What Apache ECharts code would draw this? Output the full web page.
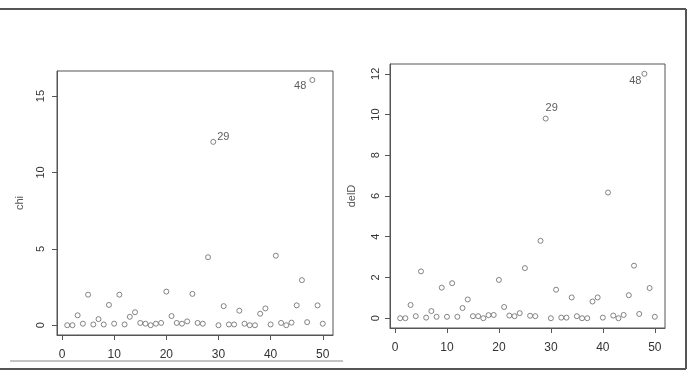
<!DOCTYPE html>
<html>
<head>
<meta charset="utf-8">
<script src="https://cdn.jsdelivr.net/npm/echarts@6/dist/echarts.min.js"></script>
<style>
  html, body { margin: 0; padding: 0; background: #fff; }
  #chart { width: 691px; height: 374px; }
</style>
</head>
<body>
<div id="chart"></div>
<script>
  // observation index 1..50
  var obs = [];
  for (var i = 1; i <= 50; i++) obs.push(i);

  var chiValues = [
    0, 0, 0.65, 0.1, 2.0, 0.05, 0.4, 0.05, 1.33, 0.1,
    2.0, 0.05, 0.55, 0.85, 0.15, 0.1, 0, 0.1, 0.15, 2.2,
    0.6, 0.15, 0.1, 0.25, 2.05, 0.15, 0.1, 4.45, 12.0, 0,
    1.25, 0.05, 0.05, 0.95, 0.1, 0, 0, 0.75, 1.1, 0.05,
    4.55, 0.15, 0, 0.17, 1.3, 2.95, 0.2, 16.05, 1.3, 0.1
  ];
  var delDValues = [
    0, 0, 0.65, 0.1, 2.3, 0.03, 0.35, 0.07, 1.5, 0.07,
    1.72, 0.07, 0.5, 0.92, 0.1, 0.1, 0, 0.15, 0.16, 1.88,
    0.55, 0.13, 0.1, 0.25, 2.46, 0.12, 0.1, 3.8, 9.8, 0,
    1.4, 0.03, 0.03, 1.02, 0.1, 0, 0, 0.82, 1.02, 0.03,
    6.17, 0.13, 0, 0.16, 1.13, 2.58, 0.21, 12.0, 1.48, 0.07
  ];
  var labelled = [29, 48];
  var xTicks = [0, 10, 20, 30, 40, 50];
  var chiTicks = [0, 5, 10, 15];
  var delDTicks = [0, 2, 4, 6, 8, 10, 12];

  var ink = '#555';
  var txt = '#333';
  var font = 'Liberation Sans, Arial, sans-serif';

  var labelStyles = {
    chi: {
      29: { position: 'right', distance: 1, offset: [0, -5] },
      48: { position: 'left', distance: 3, offset: [0, 6] }
    },
    delD: {
      29: { position: 'top', distance: 2, offset: [6, 0] },
      48: { position: 'left', distance: 0, offset: [0, 7] }
    }
  };

  function points(values, key) {
    return values.map(function (v, k) {
      var item = { value: [obs[k], v] };
      if (labelled.indexOf(obs[k]) >= 0) {
        var s = labelStyles[key][obs[k]];
        item.label = {
          show: true, position: s.position, distance: s.distance, offset: s.offset,
          formatter: String(obs[k]), color: txt, fontSize: 11, fontFamily: font
        };
      }
      return item;
    });
  }

  function xAxis(grid) {
    return {
      gridIndex: grid, type: 'value', min: -0.96, max: 51.96,
      splitLine: { show: false },
      axisLine: { show: true, onZero: false, lineStyle: { color: ink } },
      axisTick: { show: true, inside: false, length: 5, customValues: xTicks, lineStyle: { color: ink } },
      axisLabel: { customValues: xTicks, margin: 14, color: txt, fontSize: 12, fontFamily: font }
    };
  }

  function yAxis(grid, min, max, ticks, name, margin, gap) {
    return {
      gridIndex: grid, type: 'value', min: min, max: max,
      name: name, nameLocation: 'middle', nameGap: gap, nameRotate: 90,
      nameTextStyle: { color: ink, fontSize: 11, fontFamily: font },
      splitLine: { show: false },
      axisLine: { show: true, onZero: false, lineStyle: { color: ink } },
      axisTick: { show: true, inside: false, length: 5, customValues: ticks, lineStyle: { color: ink } },
      axisLabel: { customValues: ticks, rotate: 90, margin: margin, color: txt, fontSize: 11, fontFamily: font }
    };
  }

  var pointStyle = { color: '#fff', borderColor: '#666', borderWidth: 1 };

  var chart = echarts.init(document.getElementById('chart'), null, { renderer: 'canvas' });
  chart.setOption({
    animation: false,
    backgroundColor: '#fff',
    grid: [
      { left: 57, top: 71, width: 276, height: 264, show: true, borderColor: ink, borderWidth: 1 },
      { left: 390, top: 64, width: 275, height: 264, show: true, borderColor: ink, borderWidth: 1 }
    ],
    xAxis: [xAxis(0), xAxis(1)],
    yAxis: [
      yAxis(0, -0.64, 16.64, chiTicks, 'chi', 11, 32),
      yAxis(1, -0.48, 12.48, delDTicks, 'delD', 9, 33)
    ],
    series: [
      {
        type: 'scatter', xAxisIndex: 0, yAxisIndex: 0, symbol: 'circle', symbolSize: 5,
        itemStyle: pointStyle,
        data: points(chiValues, 'chi')
      },
      {
        type: 'scatter', xAxisIndex: 1, yAxisIndex: 1, symbol: 'circle', symbolSize: 5,
        itemStyle: pointStyle,
        data: points(delDValues, 'delD')
      }
    ],
    graphic: [
      { type: 'line', shape: { x1: 0, y1: 9, x2: 686, y2: 9 }, style: { stroke: '#555', lineWidth: 2 } },
      { type: 'line', shape: { x1: 686, y1: 9, x2: 686, y2: 369 }, style: { stroke: '#555', lineWidth: 2 } },
      { type: 'line', shape: { x1: 0, y1: 369, x2: 686, y2: 369 }, style: { stroke: '#555', lineWidth: 2 } },
      { type: 'line', shape: { x1: 10, y1: 361, x2: 343, y2: 361 }, style: { stroke: '#888', lineWidth: 1 } }
    ]
  });
</script>
</body>
</html>
